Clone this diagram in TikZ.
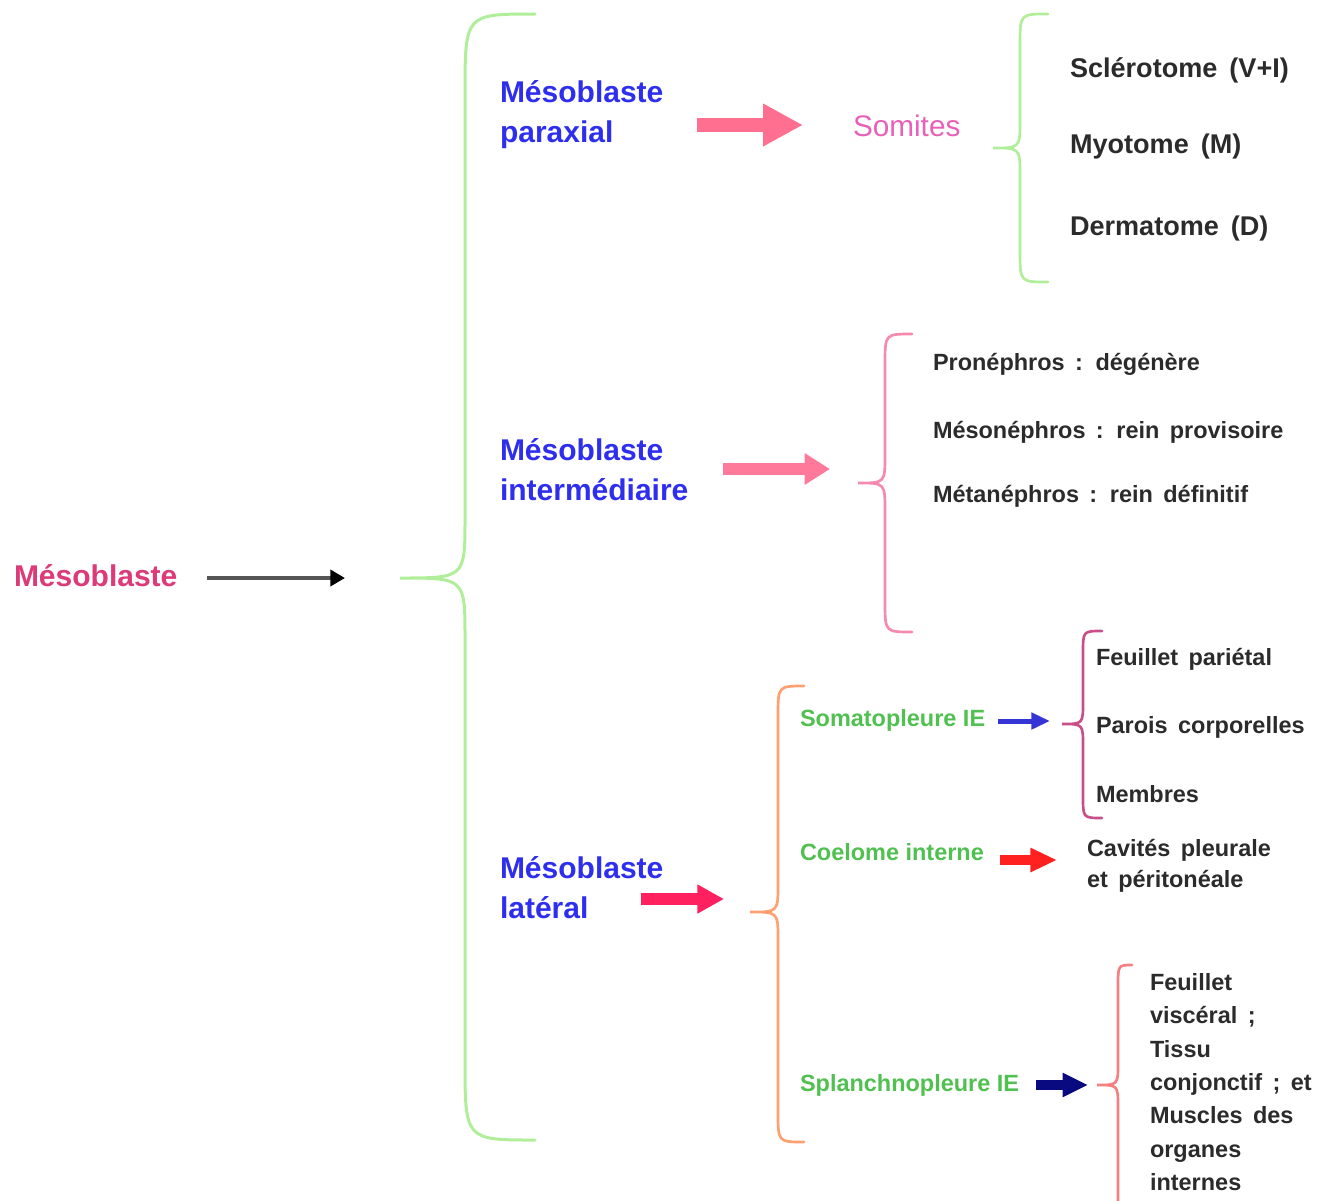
\documentclass[tikz,border=0pt]{standalone}
\usepackage{fontspec}
\setmainfont{Liberation Sans}
\newfontfamily\wsfont[WordSpace=1.6]{Liberation Sans}
\usetikzlibrary{arrows.meta}
\definecolor{mpink}{HTML}{DC3A78}
\definecolor{mblue}{HTML}{2E2EEE}
\definecolor{somc}{HTML}{E860B8}
\definecolor{arrA}{HTML}{FF6F8F}
\definecolor{arrB}{HTML}{FF7A9A}
\definecolor{arrC}{HTML}{FF2060}
\definecolor{arrRed}{HTML}{FF2020}
\definecolor{arrNavy}{HTML}{0A0A80}
\definecolor{arrBlue}{HTML}{3535D5}
\definecolor{gbrace}{HTML}{B0EE9A}
\definecolor{pbrace}{HTML}{F58AAE}
\definecolor{obrace}{HTML}{FFA070}
\definecolor{vbrace}{HTML}{C8508A}
\definecolor{sbrace}{HTML}{F58080}
\definecolor{gtext}{HTML}{50C050}
\definecolor{dtext}{HTML}{2B2B2B}
% brace: style, tipx, tipy, vx, top, bottom, endx, end radius, tip radius
\newcommand\mybrace[9]{%
  \draw[#1] (#7,#5) .. controls (#4,#5) .. (#4,#5+#8) -- (#4,#3-#9)
    .. controls (#4,#3) .. (#2,#3) .. controls (#4,#3) .. (#4,#3+#9)
    -- (#4,#6-#8) .. controls (#4,#6) .. (#7,#6);}
\begin{document}
\begin{tikzpicture}[x=0.75pt,y=-0.75pt,
  every node/.style={inner sep=0pt,outer sep=0pt,anchor=west},
  bigtxt/.style={font=\bfseries\fontsize{22.5}{30}\selectfont},
  medtxt/.style={font=\wsfont\bfseries\fontsize{20.3}{24}\selectfont,text=dtext},
  smalltxt/.style={font=\wsfont\bfseries\fontsize{17.6}{25}\selectfont,text=dtext},
  greentxt/.style={font=\bfseries\fontsize{17.6}{22}\selectfont,text=gtext},
  bracestyle/.style={line width=#1,line cap=round}
]
\path[use as bounding box] (0,0) rectangle (1326,1200);

% ---- root
\node[bigtxt,text=mpink] (meso) at (14,576) {Mésoblaste};
\coordinate (rootS) at (207,578);
\coordinate (rootE) at (345,578);
\draw[draw={rgb,255:red,85;green,85;blue,85},line width=3pt,
  -{Triangle[length=11pt,width=12pt,color=black]}] (rootS) -- (rootE);

% ---- big green brace
\mybrace{gbrace,bracestyle=2.25pt}{400}{578}{465}{14}{1140}{535}{80}{60}

% ---- paraxial
\node[bigtxt,text=mblue,align=left] (para) at (500,115) {Mésoblaste\\paraxial};
\coordinate (pS) at (697,125);
\coordinate (pE) at (803,125);
\draw[arrA,line width=10.5pt,-{Triangle[length=30pt,width=30pt]}] (pS) -- (pE);
\node[font=\fontsize{22.3}{26}\selectfont,text=somc] (som) at (853,126) {Somites};
\mybrace{gbrace,bracestyle=2pt}{993}{148}{1020}{14}{282}{1048}{30}{28}
\node[medtxt] (scl) at (1070,70) {Sclérotome (V+I)};
\node[medtxt] (myo) at (1070,146) {Myotome (M)};
\node[medtxt] (der) at (1070,228) {Dermatome (D)};

% ---- intermediaire
\node[bigtxt,text=mblue,align=left] (inter) at (500,470) {Mésoblaste\\intermédiaire};
\coordinate (iS) at (723,469);
\coordinate (iE) at (830,469);
\draw[arrB,line width=9pt,-{Triangle[length=19pt,width=22.5pt]}] (iS) -- (iE);
\mybrace{pbrace,bracestyle=2pt}{858}{483}{885}{334}{632}{912}{30}{28}
\node[smalltxt] (pro) at (933,364) {Pronéphros : dégénère};
\node[smalltxt] (mesn) at (933,432) {Mésonéphros : rein provisoire};
\node[smalltxt] (met) at (933,496) {Métanéphros : rein définitif};

% ---- lateral
\node[bigtxt,text=mblue,align=left] (lat) at (500,888) {Mésoblaste\\latéral};
\coordinate (lS) at (641,899);
\coordinate (lE) at (724,899);
\draw[arrC,line width=9pt,-{Triangle[length=20pt,width=20.5pt]}] (lS) -- (lE);
\mybrace{obrace,bracestyle=2pt}{750}{912}{778}{686}{1142}{804}{30}{28}

% somatopleure
\node[greentxt] (soma) at (800,720) {Somatopleure IE};
\coordinate (sS) at (998,721);
\coordinate (sE) at (1050,721);
\draw[arrBlue,line width=3.75pt,-{Triangle[length=14pt,width=12pt]}] (sS) -- (sE);
\mybrace{vbrace,bracestyle=2pt}{1062}{724}{1083}{631}{818}{1102}{22}{22}
\node[smalltxt] (feu) at (1096,659) {Feuillet pariétal};
\node[smalltxt] (par) at (1096,727) {Parois corporelles};
\node[smalltxt] (mem) at (1096,794) {Membres};

% coelome
\node[greentxt] (coe) at (800,852) {Coelome interne};
\coordinate (cS) at (1000,860);
\coordinate (cE) at (1057,860);
\draw[arrRed,line width=7.5pt,-{Triangle[length=20pt,width=17pt]}] (cS) -- (cE);
\node[smalltxt,align=left,font=\wsfont\bfseries\fontsize{17.6}{23.25}\selectfont] (cav) at (1087,865.5) {Cavités pleurale\\et péritonéale};

% splanchnopleure
\node[greentxt] (spl) at (800,1085) {Splanchnopleure IE};
\coordinate (nS) at (1036,1085);
\coordinate (nE) at (1088,1085);
\draw[arrNavy,line width=7.5pt,-{Triangle[length=19pt,width=17pt]}] (nS) -- (nE);
\mybrace{sbrace,bracestyle=2pt}{1097}{1085}{1118}{965}{1215}{1132}{22}{22}
\node[smalltxt,align=left] (vis) at (1150,1082) {Feuillet\\viscéral ;\\Tissu\\conjonctif ; et\\Muscles des\\organes\\internes};
\end{tikzpicture}
\end{document}
